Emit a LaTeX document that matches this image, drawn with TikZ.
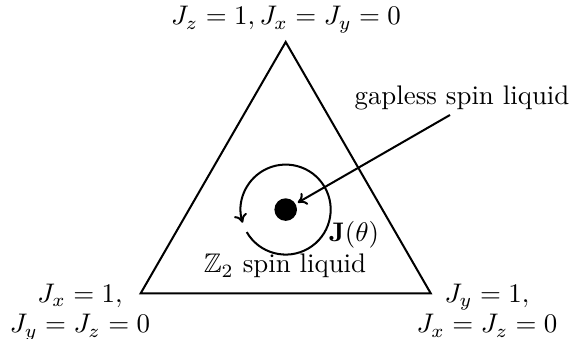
\documentclass[tikz,border=0pt]{standalone}
\usepackage{amsmath,amssymb}
\usetikzlibrary{arrows.meta}
\begin{document}
\begin{tikzpicture}[x=0.372pt,y=0.372pt, line width=0.75pt,
  lbl/.style={font=\fontsize{10}{11.2}\selectfont, inner sep=0pt},
  dotnode/.style={circle, fill, minimum size=8.4pt, inner sep=0pt},
  tip/.style={-{To[length=3.2pt,width=5pt]}}]
\useasboundingbox (0,0) rectangle (574,339);
\coordinate (A) at (285.7,297);
\coordinate (B) at (140.7,45.7);
\coordinate (C) at (430.7,45.7);
\coordinate (O) at (285.7,129.4);
\draw (A) -- (B) -- (C) -- cycle;
\node[dotnode] (dot) at (O) {};
\draw[tip] (O) ++(210:16.74pt) arc[start angle=210, end angle=557, radius=16.74pt];
\coordinate (s) at (450,224);
\draw[tip, shorten >=0.6pt] (s) -- (dot);
\node[lbl, anchor=base] (top) at (286,314) {$J_z=1, J_x=J_y=0$};
\node[lbl, anchor=base] (gl) at (462,234) {gapless spin liquid};
\node[lbl, anchor=base] (z2) at (285,66) {$\mathbb{Z}_2$ spin liquid};
\node[lbl, anchor=base] (jt) at (354,97) {$\mathbf{J}(\theta)$};
\node[lbl, anchor=base, align=center] (lft) at (80,6) {$J_x=1,$\\$J_y=J_z=0$};
\node[lbl, anchor=base, align=center] (rgt) at (487,6) {$J_y=1,$\\$J_x=J_z=0$};
\end{tikzpicture}
\end{document}
